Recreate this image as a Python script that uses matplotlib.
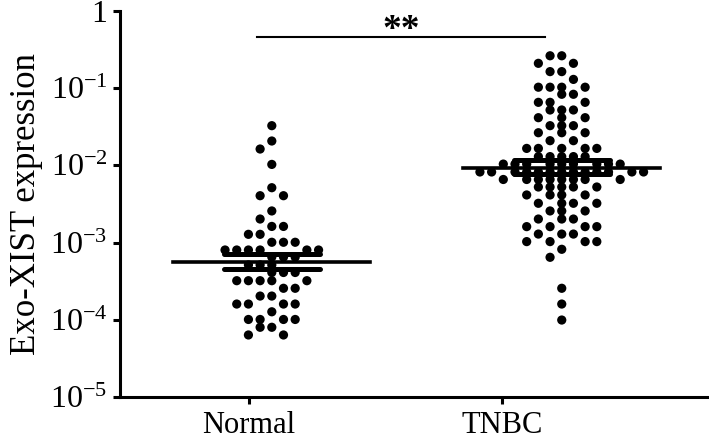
import matplotlib
matplotlib.use('Agg')
import matplotlib.pyplot as plt
import numpy as np

# data (relative expression, log axis)
groups = ['Normal', 'TNBC']

normal_vals = ([0.0327, 0.0207, 0.0163, 0.0103, 0.00514]
               + [0.00405] * 2 + [0.00257] + [0.00202]
               + [0.00162] * 2 + [0.00128] * 2 + [0.00101] * 3
               + [0.000802] * 6 + [0.00065] * 3 + [0.000513] * 3
               + [0.00041] * 3 + [0.000321] * 5 + [0.000256] * 2
               + [0.000203] * 2 + [0.00016] * 4 + [0.000127]
               + [0.000101] * 4 + [0.00008] * 2 + [0.0000636] * 2)

tnbc_vals = ([0.263] * 2 + [0.21] * 2 + [0.164] * 2 + [0.13]
             + [0.103] * 4 + [0.0834] * 2 + [0.0656] * 3 + [0.0522] * 3
             + [0.0415] * 3 + [0.0327] * 3 + [0.0265] * 3 + [0.0209] * 2
             + [0.0166] * 5 + [0.013] * 5 + [0.0104] * 9 + [0.00822] * 13
             + [0.00657] * 8 + [0.00525] * 5 + [0.00414] * 4 + [0.00323] * 4
             + [0.00257] * 3 + [0.00202] * 3 + [0.00161] * 4 + [0.00129] * 3
             + [0.00103] * 4 + [0.000819] + [0.000645] + [0.000256]
             + [0.00016] + [0.0000993])

means = [5.66e-4, 9.3e-3]
sem_hi = [7.1e-4, 1.17e-2]
sem_lo = [4.55e-4, 7.67e-3]

ytick_vals = [1e-5, 1e-4, 1e-3, 1e-2, 1e-1, 1]
ytick_labels = [r'10$^{-5}$', r'10$^{-4}$', r'10$^{-3}$', r'10$^{-2}$', r'10$^{-1}$', '1']

plt.rcParams['font.family'] = ['Liberation Serif', 'DejaVu Serif']
plt.rcParams['mathtext.fontset'] = 'custom'
plt.rcParams['mathtext.rm'] = 'Liberation Serif'
plt.rcParams['mathtext.it'] = 'Liberation Serif'


def swarm(values):
    # bin in 0.1 decade rows, spread each row across columns,
    # dodging the columns taken by the row just above
    logs = np.log10(values)
    bins = np.round(logs * 10).astype(int)
    offs = np.zeros(len(values))
    used = {}
    for b in sorted(set(bins), reverse=True):
        idx = np.where(bins == b)[0]
        n = len(idx)
        prev = used.get(b + 1, set())
        half = n // 2 + 1
        cand = sorted(range(-half, half + 1), key=lambda c: (abs(c), c))
        cols = [c for c in cand if c not in prev][:n]
        for c in cand:
            if len(cols) >= n:
                break
            if c not in cols:
                cols.append(c)
        used[b] = set(cols)
        offs[idx] = cols
    return offs


fig = plt.figure(figsize=(7.09, 4.41), dpi=100)
ax = fig.add_axes([120 / 709, 44 / 441, 589 / 709, 386 / 441])

centers = [1.09, 2.236]
col_w = 0.0462
for i, vals in enumerate([normal_vals, tnbc_vals]):
    vals = np.array(vals)
    x = centers[i] + swarm(vals) * col_w
    ax.scatter(x, vals, s=44, color='black', edgecolors='none', zorder=2)
    ax.plot([centers[i] - 0.39, centers[i] + 0.39], [means[i], means[i]],
            color='black', lw=2.6, zorder=3)
    for v in (sem_hi[i], sem_lo[i]):
        ax.plot([centers[i] - 0.19, centers[i] + 0.19], [v, v],
                color='black', lw=3.6, solid_capstyle='round', zorder=3)

# significance bar
ax.plot([1.032, 2.17], [0.46, 0.46], color='black', lw=1.5, clip_on=False)
ax.text(1.6, 0.33, '**', ha='center', va='bottom', fontsize=27,
        fontweight='bold')

ax.set_yscale('log')
ax.set_ylim(1e-5, 1)
ax.set_xlim(0.49, 2.818)
ax.set_yticks(ytick_vals)
ax.set_yticklabels(ytick_labels)
ax.yaxis.set_minor_locator(matplotlib.ticker.NullLocator())
ax.set_xticks([1, 2])
ax.set_xticklabels(groups)

for s in ['top', 'right']:
    ax.spines[s].set_visible(False)
for s in ['left', 'bottom']:
    ax.spines[s].set_linewidth(2.2)
ax.tick_params(axis='both', width=2.2, length=5)
ax.tick_params(axis='x', pad=5, labelsize=22)
ax.tick_params(axis='y', pad=4, labelsize=23)
ax.set_ylabel('Exo-XIST expression', fontsize=25, labelpad=5)

fig.savefig('out.png', dpi=100)
